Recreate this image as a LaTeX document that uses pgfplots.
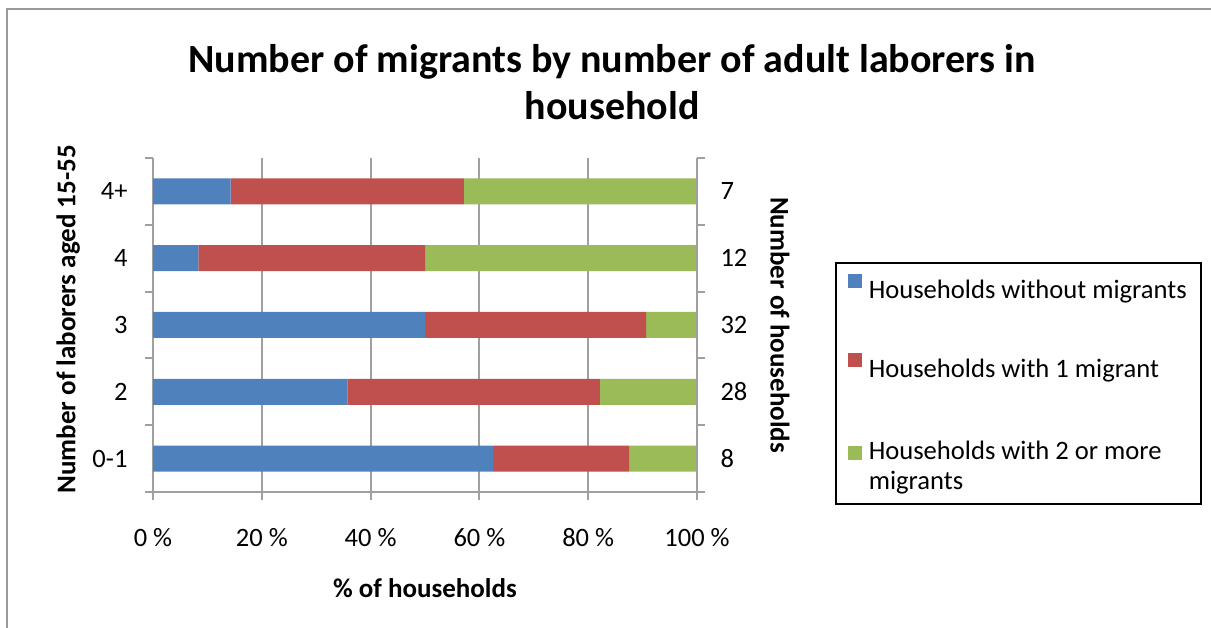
\documentclass[border=0pt]{standalone}
\usepackage{pgfplots}
\pgfplotsset{compat=1.18}
\usepackage{fontspec}
\setmainfont{Carlito}
\definecolor{cblue}{HTML}{4F81BD}
\definecolor{cred}{HTML}{C0504D}
\definecolor{cgreen}{HTML}{9BBB59}
\definecolor{axgray}{HTML}{A0A0A0}
\definecolor{framegray}{HTML}{999999}

\pgfplotstableread{
y   none    one     two
0   62.5    25.0    12.5
1   35.714  46.429  17.857
2   50.0    40.625  9.375
3   8.333   41.667  50.0
4   14.286  42.857  42.857
}\datatable

\begin{document}
\begin{tikzpicture}[x=1pt,y=1pt]
\useasboundingbox (0,0) rectangle (1211,628);
\fill[white] (0,0) rectangle (1211,628);
\draw[framegray, line width=2.5pt] (7,-5) -- (7,619) -- (1216,619);
\node[font=\fontsize{40}{47}\selectfont\bfseries, align=center] at (612,546) {Number of migrants by number of adult laborers in\\household};

\begin{axis}[
  at={(153pt,136pt)}, anchor=south west,
  width=544pt, height=334pt, scale only axis,
  xbar stacked, bar width=26pt,
  xmin=0, xmax=100, ymin=-0.5, ymax=4.5,
  axis x line*=bottom, axis y line*=left,
  axis line style={axgray, line width=2pt},
  tick align=outside,
  xtick={0,20,40,60,80,100},
  xticklabels={0 \%,20 \%,40 \%,60 \%,80 \%,100 \%},
  ytick={0,1,2,3,4}, yticklabels={0-1,2,3,4,4+},
  minor ytick={-0.5,0.5,1.5,2.5,3.5,4.5},
  major tick length=8pt, minor tick length=8pt,
  every tick/.style={axgray, line width=2pt},
  every major y tick/.append style={draw=none},
  xmajorgrids, grid style={axgray, line width=2pt},
  tick label style={font=\fontsize{26.5}{31}\selectfont, text=black},
  yticklabel style={xshift=-14pt},
  xticklabel style={yshift=-25pt},
  label style={font=\fontsize{27}{32}\selectfont\bfseries},
  xlabel={\% of households},
  xlabel style={at={(axis description cs:0.5,-0.287)}, anchor=center},
  ylabel={Number of laborers aged 15-55},
  ylabel style={at={(axis description cs:-0.156,0.517)}, anchor=center},
  legend style={at={(axis description cs:1.2537,0.6886)}, anchor=north west,
    draw=black, line width=1.5pt, font=\fontsize{26.6}{30}\selectfont,
    row sep=51pt, column sep=5pt, inner xsep=12pt, inner ysep=11pt,
    cells={align=left}},
  legend cell align=left,
  legend image code/.code={\path (0pt,-8pt); \fill[#1] (0pt,2pt) rectangle (14pt,16pt);},
]
\addplot[fill=cblue, draw=none] table[x=none, y=y] {\datatable};
\addlegendentry{Households without migrants}
\addplot[fill=cred, draw=none] table[x=one, y=y] {\datatable};
\addlegendentry{Households with 1 migrant}
\addplot[fill=cgreen, draw=none] table[x=two, y=y] {\datatable};
\addlegendentry{\rule{0pt}{26pt}Households with 2 or more\\migrants}
\end{axis}

\begin{axis}[
  at={(153pt,136pt)}, anchor=south west,
  width=544pt, height=334pt, scale only axis,
  xmin=0, xmax=100, ymin=-0.5, ymax=4.5,
  axis x line=none, axis y line*=right,
  axis line style={axgray, line width=2pt},
  tick align=outside,
  ytick={0,1,2,3,4}, yticklabels={8,28,32,12,7},
  minor ytick={-0.5,0.5,1.5,2.5,3.5,4.5},
  major tick length=8pt, minor tick length=8pt,
  every tick/.style={axgray, line width=2pt},
  every major y tick/.append style={draw=none},
  tick label style={font=\fontsize{26.5}{31}\selectfont, text=black},
  yticklabel style={xshift=12pt},
  label style={font=\fontsize{27}{32}\selectfont\bfseries},
  ylabel={Number of households},
  ylabel style={at={(axis description cs:1.1526,0.5)}, anchor=center, rotate=180},
]
\addplot[draw=none, forget plot] coordinates {(0,0) (100,4)};
\end{axis}
\end{tikzpicture}
\end{document}
